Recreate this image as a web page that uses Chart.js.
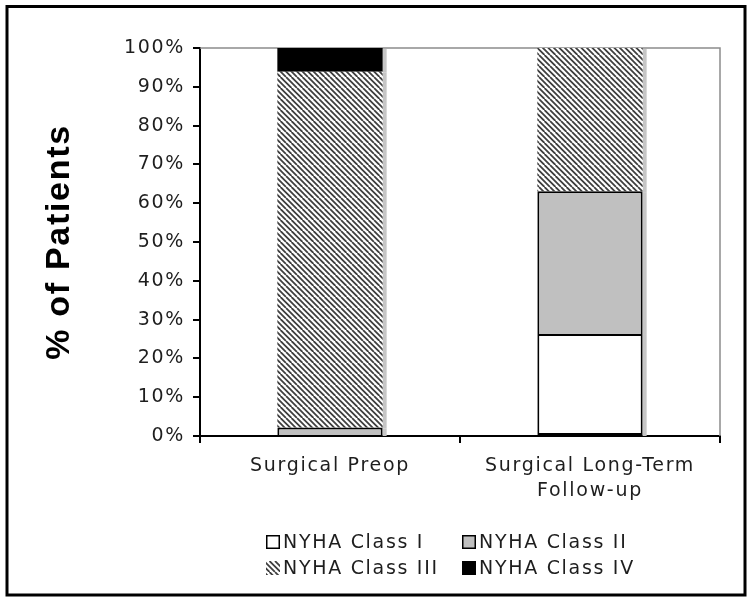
<!DOCTYPE html>
<html lang="en">
<head>
    <meta charset="UTF-8">
    <meta name="viewport" content="width=device-width, initial-scale=1.0">
    <title>NYHA Class - Surgical Patients</title>
    <style>
        body {
            margin: 0;
            background-color: white;
        }
        #nyhaChart {
            display: block;
        }
    </style>
    <script src="https://cdn.jsdelivr.net/npm/chart.js"></script>
</head>
<body>
    <canvas id="nyhaChart" width="752" height="604"></canvas>

    <script>
        // values (% of patients)
        const categories = ['Surgical Preop', ['Surgical Long-Term', 'Follow-up']];
        const classI = [0, 26.3];
        const classII = [2.2, 36.8];
        const classIII = [91.7, 36.9];
        const classIV = [6.1, 0];
        const yTickLabels = ['0%', '10%', '20%', '30%', '40%', '50%', '60%', '70%', '80%', '90%', '100%'];

        Chart.defaults.font.family = '"DejaVu Sans", Verdana, sans-serif';

        // diagonal "\\\" hatching used for Class III
        function makeHatch() {
            const s = 11;
            const c = document.createElement('canvas');
            c.width = s;
            c.height = s;
            const g = c.getContext('2d');
            g.fillStyle = '#ffffff';
            g.fillRect(0, 0, s, s);
            g.strokeStyle = '#404040';
            g.lineWidth = 1.8;
            g.beginPath();
            for (const k of [-s, -s / 2, 0, s / 2, s]) {
                g.moveTo(k, 0);
                g.lineTo(k + s, s);
            }
            g.stroke();
            return g.createPattern(c, 'repeat');
        }
        const hatch = makeHatch();

        // outline only the segments that actually have a value
        const outline = ctx => (ctx.raw ? 2 : 0);

        const extras = {
            id: 'extras',
            beforeDraw(chart) {
                chart.ctx.letterSpacing = '1.7px';
            },
            beforeDatasetsDraw(chart) {
                const ctx = chart.ctx;
                const a = chart.chartArea;
                ctx.save();
                // grey drop shadow on the right side of the bars
                ctx.fillStyle = '#c6c6c6';
                chart.data.datasets.forEach((ds, i) => {
                    chart.getDatasetMeta(i).data.forEach((bar, j) => {
                        if (!ds.data[j]) return;
                        const p = bar.getProps(['x', 'y', 'base', 'width'], true);
                        ctx.fillRect(p.x + p.width / 2, Math.min(p.y, p.base) + 1, 4, Math.abs(p.base - p.y));
                    });
                });
                // thin grey frame on top and right of the plot
                ctx.strokeStyle = '#8c8c8c';
                ctx.lineWidth = 1.5;
                ctx.beginPath();
                ctx.moveTo(a.left, a.top);
                ctx.lineTo(a.right, a.top);
                ctx.lineTo(a.right, a.bottom);
                ctx.stroke();
                ctx.restore();
            },
            afterDraw(chart) {
                const ctx = chart.ctx;
                const cols = [266, 462];
                const rows = [542, 568];
                ctx.save();
                ctx.letterSpacing = '1.7px';
                ctx.font = '19px "DejaVu Sans"';
                ctx.textBaseline = 'middle';
                chart.data.datasets.forEach((ds, i) => {
                    const x = cols[i % 2];
                    const y = rows[Math.floor(i / 2)];
                    ctx.fillStyle = ds.backgroundColor;
                    ctx.fillRect(x, y - 7, 14, 14);
                    if (ds.borderColor) {
                        ctx.strokeStyle = '#000';
                        ctx.lineWidth = 1.5;
                        ctx.strokeRect(x + 0.75, y - 6.25, 12.5, 12.5);
                    }
                    ctx.fillStyle = '#1e1e1e';
                    ctx.fillText(ds.label, x + 17, y + 1);
                });
                // outer frame
                ctx.strokeStyle = '#000';
                ctx.lineWidth = 3;
                ctx.strokeRect(7, 6.5, 738, 588.5);
                ctx.restore();
            }
        };

        new Chart(document.getElementById('nyhaChart'), {
            type: 'bar',
            data: {
                labels: categories,
                datasets: [
                    { label: 'NYHA Class I', data: classI, backgroundColor: '#ffffff', borderColor: '#000000', borderWidth: outline },
                    { label: 'NYHA Class II', data: classII, backgroundColor: '#c0c0c0', borderColor: '#000000', borderWidth: outline, borderSkipped: 'start' },
                    { label: 'NYHA Class III', data: classIII, backgroundColor: hatch, borderWidth: 0 },
                    { label: 'NYHA Class IV', data: classIV, backgroundColor: '#000000', borderWidth: 0 }
                ]
            },
            options: {
                responsive: false,
                animation: false,
                datasets: {
                    bar: {
                        barPercentage: 0.405,
                        categoryPercentage: 1,
                        borderSkipped: false
                    }
                },
                layout: {
                    padding: { top: 48, right: 32, bottom: 98, left: 0 }
                },
                scales: {
                    x: {
                        stacked: true,
                        offset: true,
                        grid: { offset: true, drawOnChartArea: false, color: '#000', lineWidth: 2, tickLength: 7 },
                        border: { color: '#000', width: 2 },
                        ticks: {
                            color: '#1e1e1e',
                            font: { size: 19, lineHeight: 1.35 },
                            padding: 10,
                            maxRotation: 0,
                            autoSkip: false
                        },
                        afterFit(scale) { scale.height = 70; }
                    },
                    y: {
                        stacked: true,
                        min: 0,
                        max: 100,
                        grid: { drawOnChartArea: false, color: '#000', lineWidth: 2, tickLength: 7 },
                        border: { color: '#000', width: 2 },
                        ticks: {
                            stepSize: 10,
                            color: '#1e1e1e',
                            font: { size: 19 },
                            padding: 8,
                            callback: (v, i) => yTickLabels[i]
                        },
                        title: {
                            display: true,
                            text: '% of Patients',
                            color: '#000',
                            font: { family: '"Liberation Sans", Arial, sans-serif', weight: 'bold', size: 34 },
                            padding: { top: 39, bottom: 0 }
                        },
                        afterFit(scale) { scale.width = 200; }
                    }
                },
                plugins: {
                    legend: { display: false },
                    tooltip: { enabled: false }
                }
            },
            plugins: [extras]
        });
    </script>
</body>
</html>
